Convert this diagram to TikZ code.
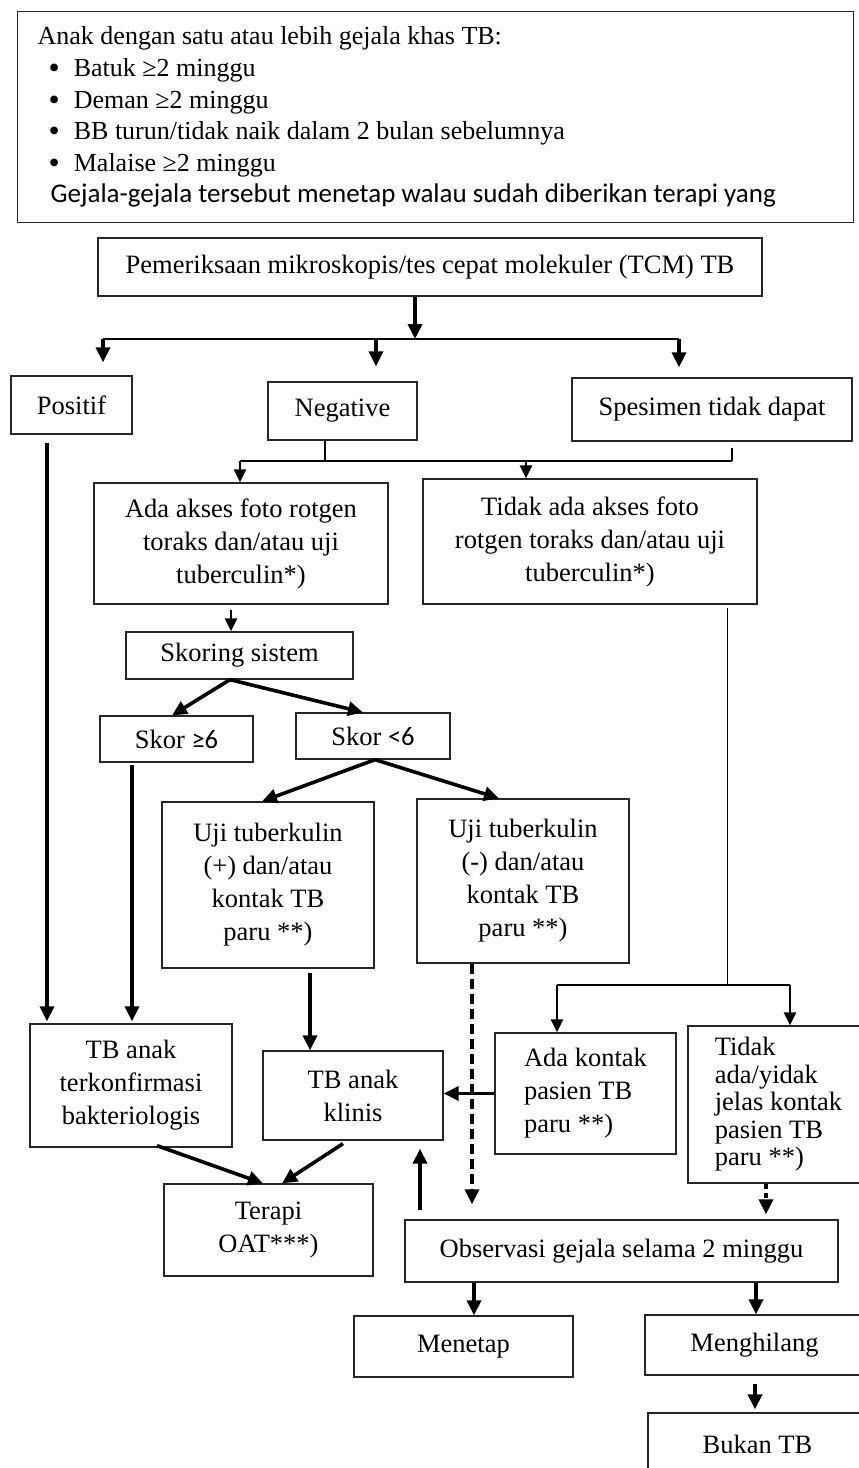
\documentclass[tikz,border=0pt]{standalone}
\usepackage{fontspec}
\setmainfont{Liberation Serif}
\newfontfamily\calfont{Carlito}
\usetikzlibrary{arrows.meta,positioning,calc}
\newcommand{\blt}{\hspace*{11pt}\raisebox{-2pt}{\fontsize{32}{31.6}\selectfont\textbullet}\hspace{14pt}}

\begin{document}
\begin{tikzpicture}[x=1pt, y=-1pt,
  box/.style={draw=black!85, line width=1.3pt, inner sep=0pt, align=center, font=\fontsize{26.5}{33}\selectfont},
  arr/.style={line width=3.6pt, -{Triangle[length=15pt,width=14pt]}},
  arrm/.style={line width=2.4pt, -{Triangle[length=13pt,width=12pt]}},
  wire/.style={line width=1.5pt}]
\useasboundingbox (0,0) rectangle (859,1468);

% gejala
\node[draw=black!85, line width=1.3pt, anchor=north west, text width=796pt, inner xsep=20pt, inner ysep=0pt,
  minimum height=211pt, align=left, font=\fontsize{26}{31.6}\selectfont] (sym) at (17,11) {\spaceskip=0pt\xspaceskip=0pt
Anak dengan satu atau lebih gejala khas TB:\\
\blt Batuk ≥2 minggu\\
\blt Deman ≥2 minggu\\
\blt BB turun/tidak naik dalam 2 bulan sebelumnya\\
\blt Malaise ≥2 minggu\\
\hspace*{13pt}{\calfont\fontsize{27}{31.6}\selectfont Gejala-gejala tersebut menetap walau sudah diberikan terapi yang}};

% boxes
\node[box, minimum width=664pt, minimum height=58pt] (pem) at (430,267) {Pemeriksaan mikroskopis/tes cepat molekuler (TCM) TB};
\node[box, minimum width=121pt, minimum height=58pt] (pos) at (71.5,405) {Positif};
\node[box, minimum width=149pt, minimum height=58pt] (neg) at (342.5,411) {Negative};
\node[box, minimum width=280pt, minimum height=63pt] (spe) at (712,409.5) {Spesimen tidak dapat};
\node[box, minimum width=294pt, minimum height=121pt] (ada) at (241,543.5) {Ada akses foto rotgen\\toraks dan/atau uji\\tuberculin*)};
\node[box, minimum width=334pt, minimum height=125pt] (tdk) at (590,541.5) {Tidak ada akses foto\\rotgen toraks dan/atau uji\\tuberculin*)};
\node[box, minimum width=227pt, minimum height=47pt] (skr) at (239.5,655.5) {Skoring sistem};
\node[box, minimum width=153pt, minimum height=46pt] (sk6) at (176.5,739) {Skor {\calfont ≥6}};
\node[box, minimum width=154pt, minimum height=46pt] (sk5) at (373,736) {Skor {\calfont <6}};
\node[box, minimum width=212pt, minimum height=166pt] (ujp) at (268,885) {Uji tuberkulin\\(+) dan/atau\\kontak TB\\paru **)};
\node[box, minimum width=212pt, minimum height=164pt] (ujm) at (523,881) {Uji tuberkulin\\(-) dan/atau\\kontak TB\\paru **)};
\node[box, minimum width=202pt, minimum height=123pt] (kon) at (131,1085.5) {TB anak\\terkonfirmasi\\bakteriologis};
\node[box, minimum width=180pt, minimum height=89pt] (kln) at (353,1095.5) {TB anak\\klinis};
\node[box, align=left, minimum width=181pt, minimum height=121pt] (akt) at (585.5,1093.5) {Ada kontak\\pasien TB\\paru **)};
\node[box, align=left, minimum width=181pt, minimum height=157pt, font=\fontsize{26.5}{27.5}\selectfont] (tkt) at (778.5,1104.5) {Tidak\\ada/yidak\\jelas kontak\\pasien TB\\paru **)};
\node[box, minimum width=209pt, minimum height=92pt] (ter) at (268.5,1230) {Terapi\\OAT***)};
\node[box, minimum width=433pt, minimum height=62pt] (obs) at (621.5,1251) {Observasi gejala selama 2 minggu};
\node[box, minimum width=219pt, minimum height=61pt] (met) at (463.5,1346.5) {Menetap};
\node[box, minimum width=219pt, minimum height=60pt] (mhl) at (754.5,1345) {Menghilang};
\node[box, minimum width=219pt, minimum height=62pt] (bkn) at (757.5,1444) {Bukan TB};

% cabang hasil pemeriksaan
\coordinate (j1) at (415,339);
\coordinate (j1a) at (103,339);
\coordinate (j1b) at (376,339);
\coordinate (j1c) at (679,339);
\draw[arr] (pem.south -| j1) -- (j1);
\draw[wire] (j1a) -- (j1c);
\draw[arr, shorten >=13pt] (j1a) -- (j1a |- pos.north);
\draw[arr, shorten >=15pt] (j1b) -- (j1b |- neg.north);
\draw[arr, shorten >=10pt] (j1c) -- (j1c |- spe.north);

\coordinate (j2a) at (240,461);
\coordinate (j2b) at (526,461);
\coordinate (j2c) at (325,461);
\coordinate (j2d) at (732,461);
\draw[wire] (neg.south -| j2c) -- (j2c);
\draw[wire, shorten <=6pt] (spe.south -| j2d) -- (j2d);
\draw[wire] (j2a) -- (j2d);
\draw[arrm] (j2a) -- (j2a |- ada.north);
\draw[arrm] (j2b) -- (j2b |- tdk.north);

% skoring
\draw[arr, shorten <=8pt, shorten >=2pt] ($(pos.south)+(-24.5,0)$) -- ($(kon.north)+(-84,0)$);
\draw[arrm, shorten <=5pt] ($(ada.south)+(-10,0)$) -- ($(skr.north)+(-8.5,0)$);
\draw[arr] ($(skr.south)+(-9.5,0)$) -- ($(sk6.north)+(-4.5,0)$);
\draw[arr] ($(skr.south)+(-9.5,0)$) -- ($(sk5.north)+(-10,0)$);
\draw[arr, shorten <=2pt, shorten >=2pt] ($(sk6.south)+(-44.5,0)$) -- ($(kon.north)+(1,0)$);
\draw[arr] ($(sk5.south)+(2,0)$) -- ($(ujp.north)+(-6,0)$);
\draw[arr] ($(sk5.south)+(2,0)$) -- ($(ujm.north)+(-24,0)$);
\draw[arr, shorten <=4pt] ($(ujp.south)+(42,0)$) -- ($(kln.north)+(-43,0)$);
\draw[arr, dash pattern=on 10pt off 5pt, shorten >=15pt] ($(ujm.south)+(-51,0)$) -- ($(obs.north)+(-149.5,0)$);

% tanpa foto toraks
\coordinate (j3) at (727,985);
\coordinate (j3a) at (557,985);
\coordinate (j3b) at (790,985);
\draw[line width=1pt, shorten <=3pt] (tdk.south -| j3) -- (j3);
\draw[line width=2pt] (j3a) -- (j3b);
\draw[arrm] (j3a) -- (j3a |- akt.north);
\draw[arrm] (j3b) -- (j3b |- tkt.north);
\draw[arr] (akt.west) -- (kln.east |- akt.west);

% terapi dan observasi
\draw[arr] ($(kon.south)+(26,-2)$) -- ($(ter.north)+(-5.5,0)$);
\draw[arr] ($(kln.south)+(-10,3)$) -- ($(ter.north)+(13.5,0)$);
\draw[arr, shorten <=9pt, shorten >=8pt] ($(obs.north)+(-201.5,0)$) -- ($(kln.south)+(67,0)$);
\draw[arr, dash pattern=on 5pt off 4pt, shorten >=5pt] ($(tkt.south)+(-12.5,0)$) -- ($(obs.north)+(144.5,0)$);
\draw[arr] ($(obs.south)+(-147.5,0)$) -- ($(met.north)+(10.5,0)$);
\draw[arr] ($(obs.south)+(134.5,0)$) -- ($(mhl.north)+(1.5,0)$);
\draw[arr, shorten <=8pt, shorten >=3pt] ($(mhl.south)+(0.5,0)$) -- ($(bkn.north)+(-2.5,0)$);
\end{tikzpicture}
\end{document}
